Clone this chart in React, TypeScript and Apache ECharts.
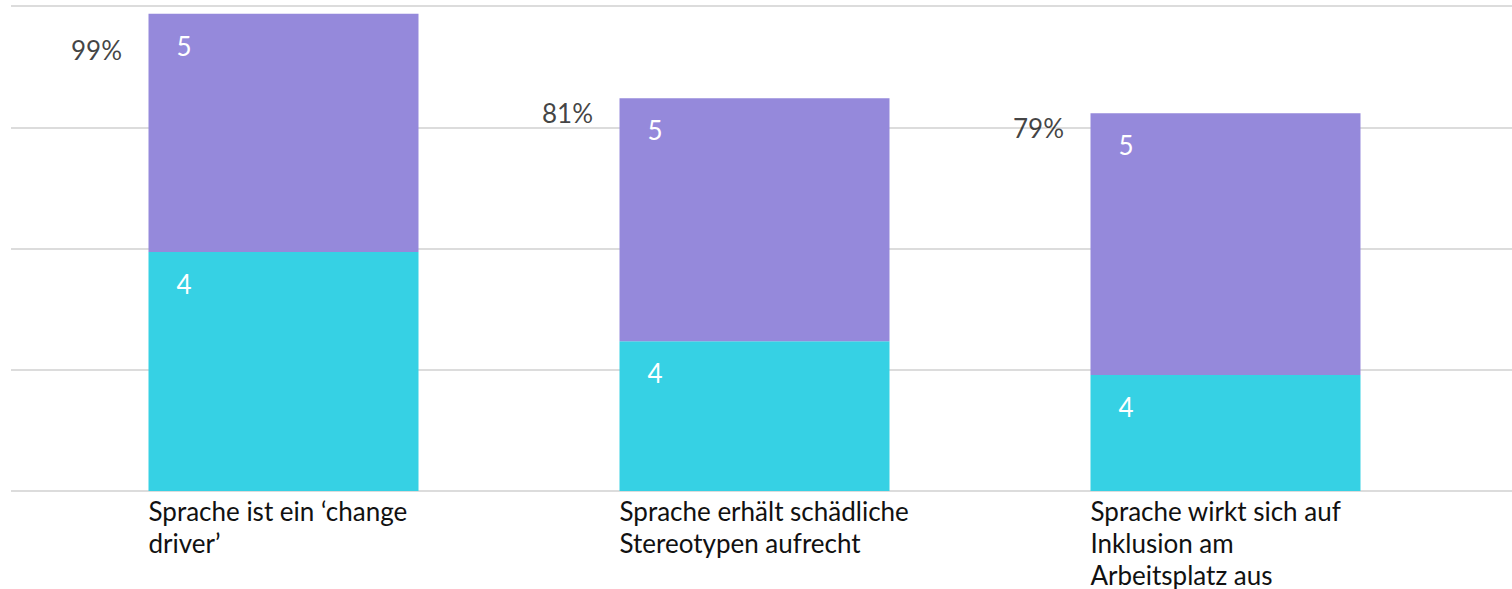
import React, { useEffect, useRef } from "react";
import * as echarts from "echarts";

const categories = [
  "Sprache ist ein ‘change\ndriver’",
  "Sprache erhält schädliche\nStereotypen aufrecht",
  "Sprache wirkt sich auf\nInklusion am\nArbeitsplatz aus",
];
const seriesNames = ["4", "5"];
const values4 = [49.3, 30.9, 23.9];
const values5 = [49.1, 50.1, 54.0];
const totalLabels = ["99%", "81%", "79%"];
const yTicks = [0, 25, 50, 75, 100];

const FONT = "Lato";
const CYAN = "#36d1e4";
const PURPLE = "#9589db";
const TEXT = "#111111";

export default function App() {
  const ref = useRef<HTMLDivElement>(null);
  useEffect(() => {
    document.body.style.margin = "0";
    if (!ref.current) return;
    const chart = echarts.init(ref.current, undefined, { renderer: "svg" });
    const totals = values4.map((v, i) => v + values5[i]);
    const yMin = yTicks[0];
    const yMax = yTicks[yTicks.length - 1];
    const yInt = yTicks[1] - yTicks[0];
    const barLabel = {
      show: true,
      position: "insideTopLeft",
      distance: 0,
      offset: [28, 19],
      formatter: "{a}",
      color: "#ffffff",
      fontFamily: FONT,
      fontSize: 26,
    };
    chart.setOption({
      animation: false,
      grid: [
        { left: 11, right: 0, top: 6, bottom: 98 },
        { left: 48, width: 1413, top: 6, bottom: 98 },
      ],
      xAxis: [
        { type: "category", gridIndex: 0, data: categories, show: false },
        {
          type: "category",
          gridIndex: 1,
          data: categories,
          axisLine: { show: false },
          axisTick: { show: false },
          axisLabel: {
            interval: 0,
            margin: 4,
            formatter: (v: string) =>
              v
                .split("\n")
                .map((l) => `{t|${l}}`)
                .join("\n"),
            rich: {
              t: {
                width: 270,
                align: "left",
                fontFamily: FONT,
                fontSize: 26,
                lineHeight: 32,
                color: TEXT,
              },
            },
          },
        },
      ],
      yAxis: [
        {
          type: "value",
          gridIndex: 0,
          min: yMin,
          max: yMax,
          interval: yInt,
          axisLabel: { show: false },
          axisLine: { show: false },
          axisTick: { show: false },
          splitLine: { show: true, lineStyle: { color: "#dcdcdc", width: 2 } },
        },
        {
          type: "value",
          gridIndex: 1,
          min: yMin,
          max: yMax,
          interval: yInt,
          show: false,
          splitLine: { show: false },
        },
      ],
      series: [
        {
          name: seriesNames[0],
          type: "bar",
          stack: "s",
          xAxisIndex: 1,
          yAxisIndex: 1,
          barWidth: 270,
          data: values4,
          itemStyle: { color: CYAN },
          label: barLabel,
        },
        {
          name: seriesNames[1],
          type: "bar",
          stack: "s",
          xAxisIndex: 1,
          yAxisIndex: 1,
          barWidth: 270,
          data: values5,
          itemStyle: { color: PURPLE },
          label: barLabel,
        },
        {
          name: "total",
          type: "scatter",
          xAxisIndex: 1,
          yAxisIndex: 1,
          symbolSize: 1,
          itemStyle: { color: "rgba(0,0,0,0)" },
          data: totals.map((t, i) => ({
            value: t,
            label: { offset: [0, i === 0 ? 36 : 15] },
          })),
          label: {
            show: true,
            position: "left",
            distance: 161,
            formatter: (p: any) => totalLabels[p.dataIndex],
            color: TEXT,
            fontFamily: FONT,
            fontSize: 26,
          },
        },
      ],
    });
    return () => chart.dispose();
  }, []);
  return <div ref={ref} style={{ width: 1512, height: 589 }} />;
}
